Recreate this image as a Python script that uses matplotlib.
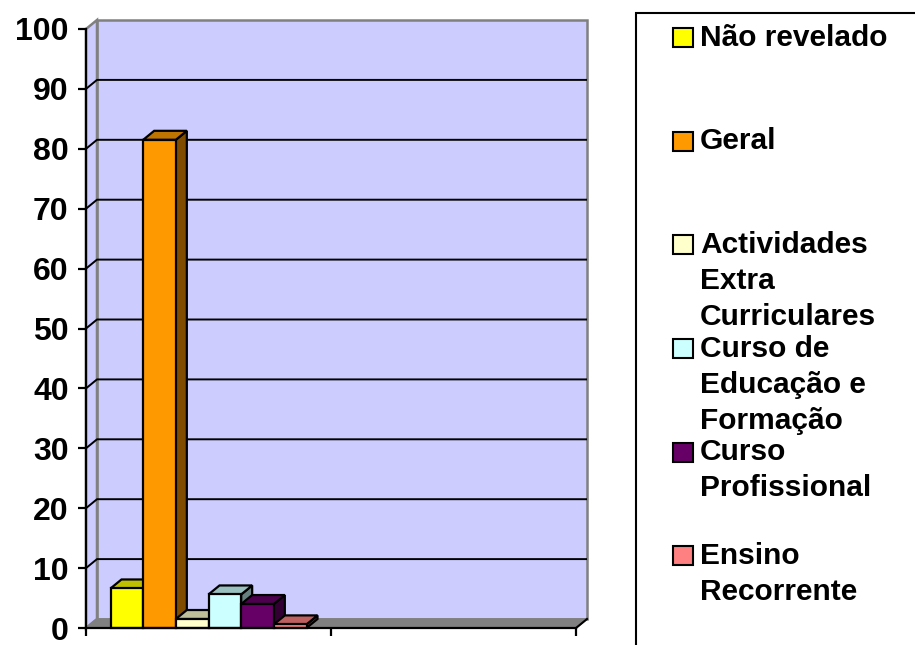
import matplotlib
matplotlib.use("Agg")
import matplotlib.pyplot as plt
from matplotlib.patches import Polygon, Rectangle
from matplotlib.colors import to_rgb

# ---------------- data ----------------
categories = ["", ""]            # two category slots, only the first holds data
series_names = ["Não revelado", "Geral", "Actividades\nExtra\nCurriculares",
                "Curso de\nEducação e\nFormação", "Curso\nProfissional",
                "Ensino\nRecorrente"]
values = [6.6, 81.5, 1.5, 5.6, 4.0, 0.6]   # values in first category
series_colors = ["#FFFF00", "#FF9900", "#FFFFCC", "#CCFFFF", "#660066", "#FF8080"]
y_ticks = list(range(0, 101, 10))

# ---------------- figure ----------------
W, H = 915, 645
fig = plt.figure(figsize=(W / 100, H / 100), dpi=100)
plt.rcParams['font.family'] = ['Liberation Sans', 'DejaVu Sans']

def fx(px):
    return px / W

def fy(py):
    return 1 - py / H

# axes = front plane of the 3-D chart
L, R, T, B = 86, 576, 29, 628
ax = fig.add_axes([fx(L), fy(B), (R - L) / W, (B - T) / H])
ax.set_xlim(0, len(categories))
ax.set_ylim(0, 100)
ax.patch.set_visible(False)

# depth offset (pixels -> data units)
inv = ax.transData.inverted()
ox, oy = inv.transform(ax.transData.transform((0, 0)))
px_x, px_y = inv.transform(ax.transData.transform((0, 0)) + [11, 9])
dx, dy = px_x - ox, px_y - oy
xmax = len(categories)

wall_c = "#CCCCFF"
edge_gray = "#808080"

# back wall
ax.add_patch(Polygon([(dx, dy), (xmax + dx, dy), (xmax + dx, 100 + dy), (dx, 100 + dy)],
                     closed=True, facecolor=wall_c, edgecolor=edge_gray, lw=1.8,
                     clip_on=False, zorder=0))
# side wall
ax.add_patch(Polygon([(0, 0), (dx, dy), (dx, 100 + dy), (0, 100)],
                     closed=True, facecolor=wall_c, edgecolor=edge_gray, lw=1.8,
                     clip_on=False, zorder=0.5))
# floor
ax.add_patch(Polygon([(0, 0), (xmax, 0), (xmax + dx, dy), (dx, dy)],
                     closed=True, facecolor=edge_gray, edgecolor=edge_gray, lw=1.2,
                     clip_on=False, zorder=0.6))
ax.plot([xmax, xmax + dx], [0, dy], color="black", lw=1.5, clip_on=False, zorder=0.7)

# gridlines on back wall and side wall
for v in y_ticks[1:-1]:
    ax.plot([0, dx, xmax + dx], [v, v + dy, v + dy], color="black", lw=1.4,
            clip_on=False, zorder=0.8, solid_capstyle="butt")

# bars
n = len(values)
w = 1 / (n + 1.5)
start = 0.75 * w

def shade(c, f):
    r, g, b = to_rgb(c)
    return (r * f, g * f, b * f)

z = 2
for i, (v, c) in enumerate(zip(values, series_colors)):
    left = start + i * w
    right = left + w
    side = Polygon([(right, 0), (right + dx, dy), (right + dx, v + dy), (right, v)],
                   closed=True, facecolor=shade(c, 0.5), edgecolor="black", lw=1.6,
                   joinstyle="miter", clip_on=False, zorder=z)
    top = Polygon([(left, v), (right, v), (right + dx, v + dy), (left + dx, v + dy)],
                  closed=True, facecolor=shade(c, 0.75), edgecolor="black", lw=1.6,
                  joinstyle="miter", clip_on=False, zorder=z + 0.1)
    front = Rectangle((left, 0), w, v, facecolor=c, edgecolor="black", lw=1.6,
                      joinstyle="miter", clip_on=False, zorder=z + 0.2)
    for p in (side, top, front):
        ax.add_patch(p)
    z += 1

# axes / ticks
for s in ("top", "right"):
    ax.spines[s].set_visible(False)
for s in ("left", "bottom"):
    ax.spines[s].set_color("black")
    ax.spines[s].set_linewidth(1.6)
    ax.spines[s].set_zorder(50)
ax.set_yticks(y_ticks)
ax.set_yticklabels([str(t) for t in y_ticks])
ax.set_xticks(range(len(categories) + 1))
ax.set_xticklabels([""] * (len(categories) + 1))
ax.tick_params(axis="both", direction="out", length=6, width=1.6, color="black")
ax.tick_params(axis="y", pad=6.5, labelsize=23)
for lab in ax.get_yticklabels():
    lab.set_fontweight("bold")

# legend (Excel-style, box runs off the canvas)
fig.patches.append(Rectangle((fx(636), fy(660)), fx(940) - fx(636), fy(13) - fy(660),
                             transform=fig.transFigure, facecolor="white",
                             edgecolor="black", lw=1.5, clip_on=False, zorder=1))
y_first, step, line_h = 37.8, 103.6, 36.0
for i, (name, c) in enumerate(zip(series_names, series_colors)):
    yc = y_first + i * step
    fig.patches.append(Rectangle((fx(673), fy(yc + 9.5)), 20 / W, 19 / H,
                                 transform=fig.transFigure, facecolor=c,
                                 edgecolor="black", lw=1.5, zorder=3))
    for k, line in enumerate(name.split("\n")):
        fig.text(fx(700), fy(yc + 8 + k * line_h), line, fontsize=21.5,
                 fontweight="bold", va="baseline", ha="left", zorder=4)

fig.savefig("out.png", dpi=100)
